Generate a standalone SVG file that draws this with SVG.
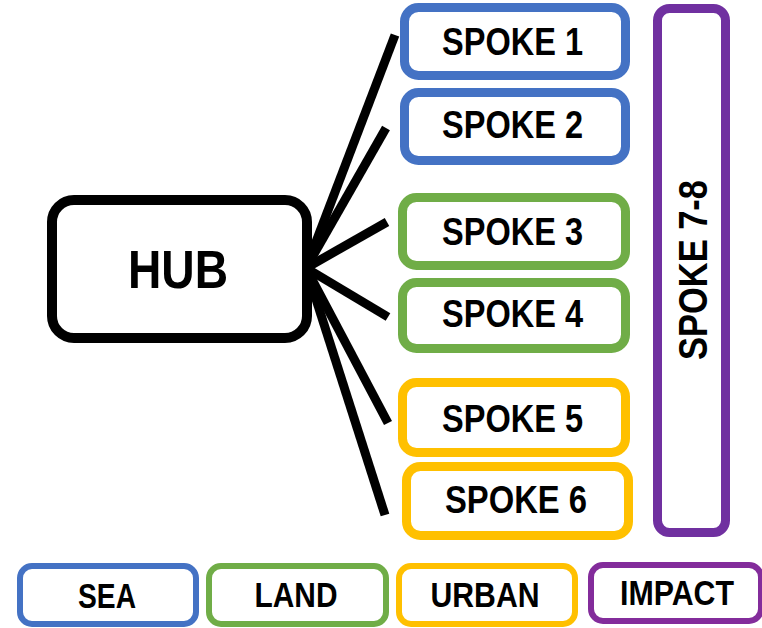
<svg xmlns="http://www.w3.org/2000/svg" width="762" height="628" viewBox="0 0 762 628">
<style>
.t{font-family:"Liberation Sans",Arial,sans-serif;font-weight:bold;fill:#000;text-anchor:middle}
.box{fill:#fff;stroke-width:9}
.leg{fill:#fff;stroke-width:6}
.blue{stroke:#4472C4}.green{stroke:#70AD47}.gold{stroke:#FFC000}.purple{stroke:#7030A0}
.spk{font-size:38px}
.lg{font-size:35px}
</style>
<rect width="762" height="628" fill="#fff"/>
<g id="connectors" stroke="#000" stroke-width="9" fill="none">
<line x1="306" y1="268" x2="395" y2="35"/>
<line x1="306" y1="268" x2="386" y2="128"/>
<line x1="306" y1="268" x2="387" y2="222"/>
<line x1="306" y1="268" x2="388" y2="317"/>
<line x1="306" y1="268" x2="388" y2="423"/>
<line x1="306" y1="268" x2="385" y2="515"/>
</g>
<g id="hub">
<rect x="52" y="200" width="255" height="138" rx="22" fill="#fff" stroke="#000" stroke-width="10"/>
<text class="t" x="178" y="288" font-size="53" textLength="100" lengthAdjust="spacingAndGlyphs">HUB</text>
</g>
<g id="spoke1"><rect class="box blue" x="404.5" y="7.5" width="221" height="68" rx="14"/><text class="t spk" x="512.5" y="55" textLength="141" lengthAdjust="spacingAndGlyphs">SPOKE 1</text></g>
<g id="spoke2"><rect class="box blue" x="404.5" y="92.5" width="221" height="68" rx="14"/><text class="t spk" x="512.5" y="138" textLength="141" lengthAdjust="spacingAndGlyphs">SPOKE 2</text></g>
<g id="spoke3"><rect class="box green" x="402.5" y="197.5" width="223" height="68" rx="14"/><text class="t spk" x="512.5" y="245" textLength="141" lengthAdjust="spacingAndGlyphs">SPOKE 3</text></g>
<g id="spoke4"><rect class="box green" x="402.5" y="282.5" width="223" height="66" rx="14"/><text class="t spk" x="512.5" y="327" textLength="141" lengthAdjust="spacingAndGlyphs">SPOKE 4</text></g>
<g id="spoke5"><rect class="box gold" x="402.5" y="382.5" width="223" height="70" rx="14"/><text class="t spk" x="512.5" y="432" textLength="141" lengthAdjust="spacingAndGlyphs">SPOKE 5</text></g>
<g id="spoke6"><rect class="box gold" x="406.5" y="466.5" width="222" height="69" rx="14"/><text class="t spk" x="516" y="513" textLength="142" lengthAdjust="spacingAndGlyphs">SPOKE 6</text></g>
<g id="spoke78"><rect class="box purple" x="657.5" y="8.5" width="68" height="524" rx="12"/><text class="t" font-size="40" transform="translate(707 270) rotate(-90)" x="0" y="0" textLength="180" lengthAdjust="spacingAndGlyphs">SPOKE 7-8</text></g>
<g id="legend-sea"><rect class="leg blue" x="20" y="566" width="176" height="58" rx="12"/><text class="t lg" x="107" y="608" textLength="58" lengthAdjust="spacingAndGlyphs">SEA</text></g>
<g id="legend-land"><rect class="leg green" x="209" y="566" width="177" height="58" rx="12"/><text class="t lg" x="296" y="607" textLength="83" lengthAdjust="spacingAndGlyphs">LAND</text></g>
<g id="legend-urban"><rect class="leg gold" x="399" y="566" width="176" height="58" rx="12"/><text class="t lg" x="485" y="607" textLength="109" lengthAdjust="spacingAndGlyphs">URBAN</text></g>
<g id="legend-impact"><rect class="leg" stroke="#832C9B" x="591" y="565" width="170" height="56" rx="12"/><text class="t lg" x="677" y="605" textLength="114" lengthAdjust="spacingAndGlyphs">IMPACT</text></g>
</svg>
